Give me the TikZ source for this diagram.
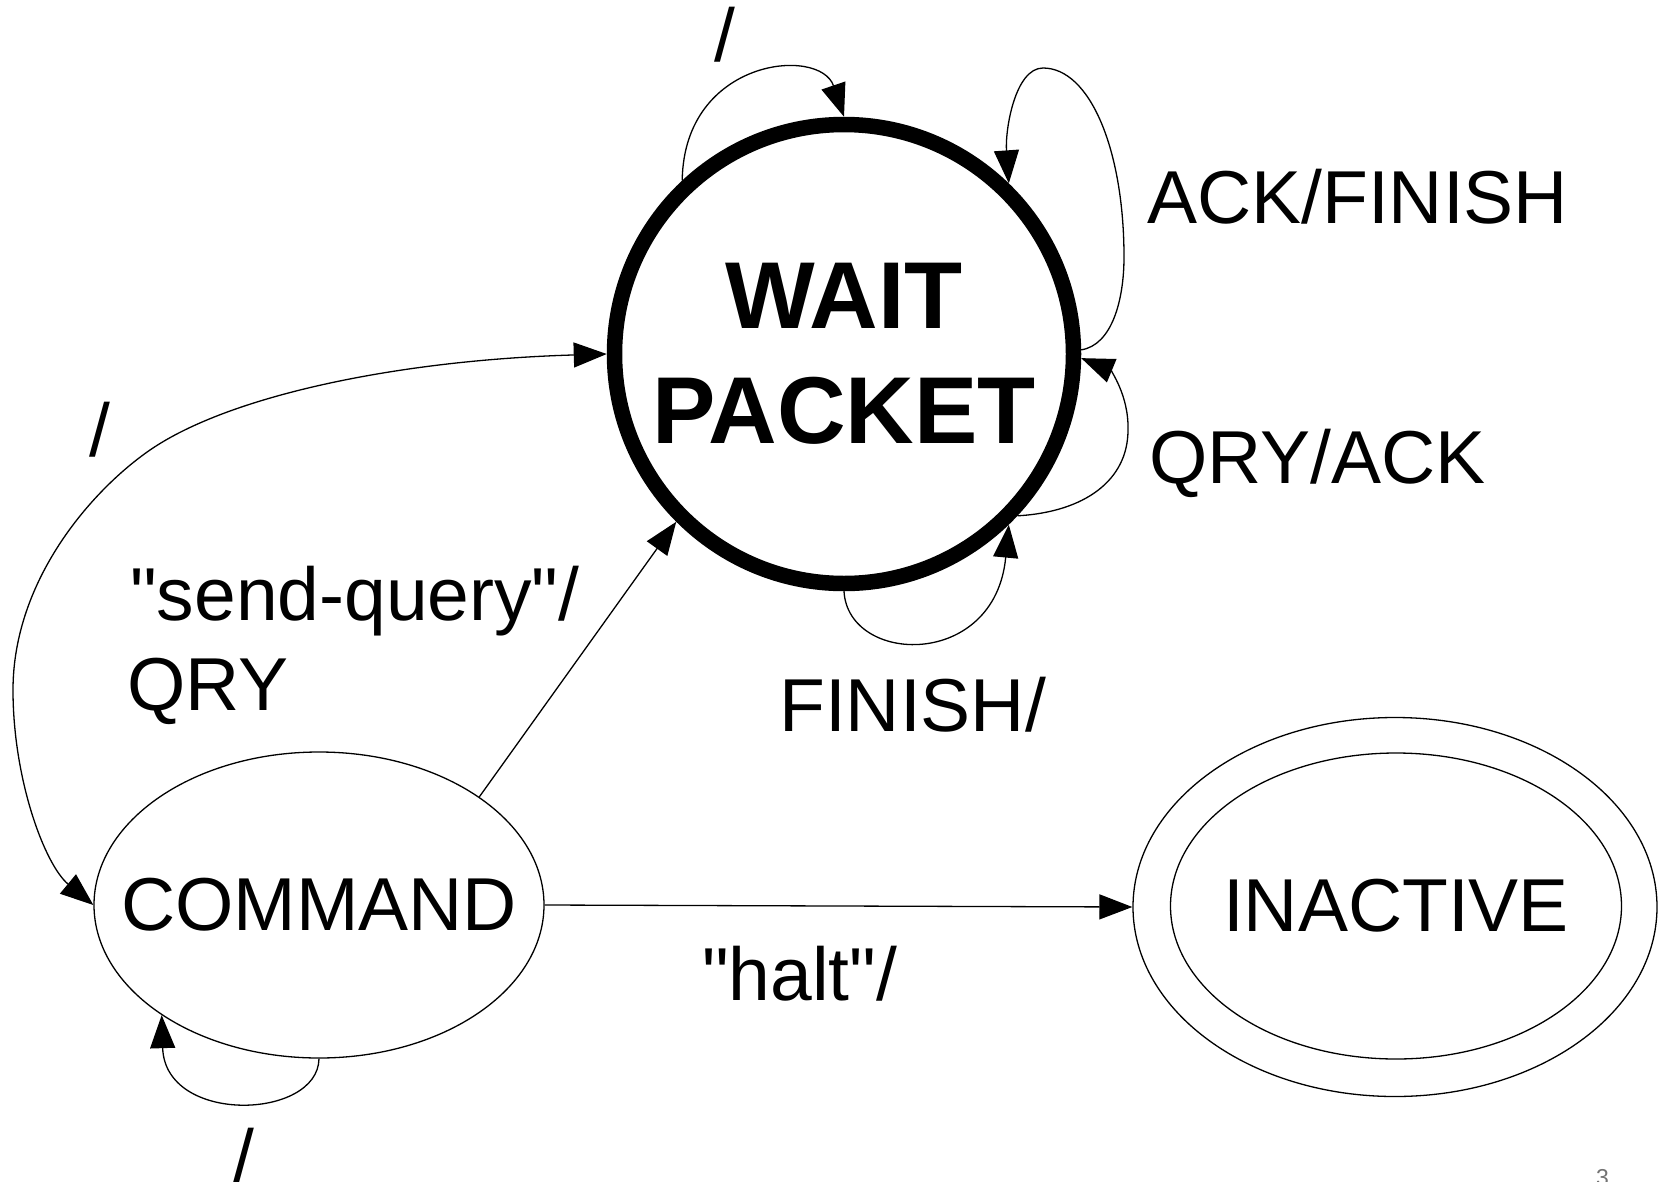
\documentclass[tikz,border=0pt]{standalone}
\usepackage{fontspec}
\newfontfamily\lab{Liberation Sans}
\usetikzlibrary{arrows.meta,shapes.geometric}
\begin{document}
\begin{tikzpicture}[x=1pt,y=-1pt,
  tip/.tip={Triangle[length=33pt,width=25pt]},
  conn/.style={line width=1.3pt,-tip},
  conntwo/.style={line width=1.3pt,tip-tip},
  mainstate/.style={circle,draw,line width=15.5pt,minimum size=459pt,inner sep=0pt,
    align=center,font=\lab\bfseries\fontsize{95}{115}\selectfont},
  ellstate/.style={ellipse,draw,line width=1.3pt,inner sep=0pt,
    font=\lab\fontsize{75}{90}\selectfont},
  lbl/.style={inner sep=0pt,anchor=base west,font=\lab\fontsize{75}{90}\selectfont},
  slash/.style={inner sep=0pt,anchor=base,font=\lab\fontsize{75}{90}\selectfont}]
\useasboundingbox (0,0) rectangle (1668,1181);

% states
\node[mainstate] (w) at (844,354) {WAIT\\PACKET};
\node[ellstate,minimum width=450pt,minimum height=306pt] (c) at (319,905) {\makebox[0pt]{COMMAND}};
\node[ellstate,minimum width=524pt,minimum height=379pt] (io) at (1395,907) {};
\node[ellstate,minimum width=451pt,minimum height=306pt] (i) at (1396,906) {\makebox[0pt]{INACTIVE}};

% transitions
\draw[conn] (w.133) .. controls (684,58) and (820,46) .. (w.90);
\draw[conn] (w.1) .. controls (1112,345) and (1124,300) .. (1124,257)
  .. controls (1124,150) and (1090,68) .. (1043,68)
  .. controls (1015,68) and (1005,130) .. (w.46);
\draw[conn] (w.-43) .. controls (1085,512) and (1128,480) .. (1128,430)
  .. controls (1129,395) and (1110,370) .. (w.-1);
\draw[conn] (w.-90) .. controls (848,665) and (995,670) .. (w.-46);
\draw[conntwo] (w.west) .. controls (400,360) and (230,395) .. (150,450)
  .. controls (92,490) and (13,580) .. (13,690)
  .. controls (13,780) and (45,865) .. (c.west);
\draw[conn] (c.34) -- (w.225);
\draw[conn] (c.east) -- (io.west);
\draw[conn] (c.south) .. controls (318,1120) and (165,1125) .. (c.215);

% labels
\node[slash] (l1) at (725,61) {/};
\node[lbl] (l2) at (1147,223) {ACK/FINISH};
\node[lbl] (l3) at (1149,483) {QRY/ACK};
\node[lbl] (l4) at (779,731) {FINISH/};
\node[slash] (l5) at (100,456) {/};
\node[lbl] (l6) at (130,620) {"send-query"/};
\node[lbl] (l7) at (127,710) {QRY};
\node[lbl] (l8) at (702,1000) {"halt"/};
\node[slash] (l9) at (244,1182) {/};
\node[inner sep=0pt,anchor=base,text=black!55,font=\lab\fontsize{23}{23}\selectfont] (pg) at (1602.5,1185) {3};
\end{tikzpicture}
\end{document}
